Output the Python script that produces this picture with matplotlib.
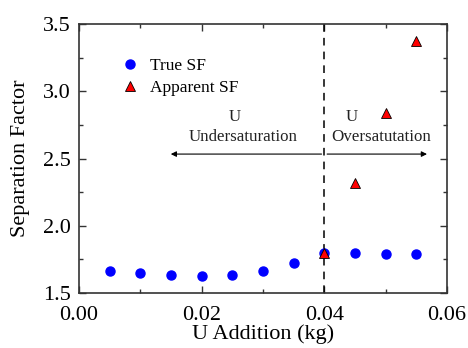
import matplotlib.pyplot as plt
from matplotlib.ticker import MultipleLocator

plt.rcParams['font.family'] = ['Liberation Serif', 'DejaVu Serif']

# data
x_true = [0.005, 0.010, 0.015, 0.020, 0.025, 0.030, 0.035, 0.040, 0.045, 0.050, 0.055]
sf_true = [1.666, 1.649, 1.636, 1.629, 1.636, 1.666, 1.723, 1.797, 1.797, 1.790, 1.788]
x_app = [0.040, 0.045, 0.050, 0.055]
sf_app = [1.800, 2.316, 2.840, 3.376]

fig = plt.figure(figsize=(4.68, 3.48), dpi=100)
ax = fig.add_axes([0.169, 0.158, 0.786, 0.773])

ax.plot(x_true, sf_true, 'o', color='#0000ff', markersize=6.5, label='True SF', zorder=3)
ax.plot(x_app, sf_app, '^', color='#ff0000', markeredgecolor='black', markeredgewidth=0.6,
        markersize=7, label='Apparent SF', zorder=4)

# boundary at 0.04 kg
ax.axvline(0.04, color='black', linestyle=(0, (5, 4)), linewidth=1.1, zorder=2)
ax.annotate('', xy=(0.0145, 2.533), xytext=(0.04, 2.533),
            arrowprops=dict(arrowstyle='-|>', color='black', lw=0.8, mutation_scale=8))
ax.annotate('', xy=(0.0572, 2.533), xytext=(0.04, 2.533),
            arrowprops=dict(arrowstyle='-|>', color='black', lw=0.8, mutation_scale=8))
txt = dict(ha='center', va='center', fontsize=12.2, color='#222222')
ax.text(0.0254, 2.81, 'U', **txt)
ax.text(0.0267, 2.66, 'Undersaturation', **txt)
ax.text(0.0445, 2.81, 'U', **txt)
ax.text(0.0492, 2.66, 'Oversatutation', **txt)

ax.set_xlim(0, 0.06)
ax.set_ylim(1.5, 3.5)
ax.xaxis.set_major_locator(MultipleLocator(0.02))
ax.xaxis.set_minor_locator(MultipleLocator(0.01))
ax.yaxis.set_major_locator(MultipleLocator(0.5))
ax.yaxis.set_minor_locator(MultipleLocator(0.25))
ax.xaxis.set_major_formatter(plt.FuncFormatter(lambda v, p: f'{v:.2f}'))
ax.yaxis.set_major_formatter(plt.FuncFormatter(lambda v, p: f'{v:.1f}'))
ax.tick_params(which='both', direction='in', top=True, right=True, labelsize=16, colors='#333333',
               labelcolor='black')
ax.tick_params(axis='x', which='major', pad=9)
ax.tick_params(axis='y', which='major', pad=6)
ax.tick_params(which='major', length=5, width=1)
ax.tick_params(which='minor', length=3, width=1)
for s in ax.spines.values():
    s.set_color('#333333')
    s.set_linewidth(1.2)

ax.set_xlabel('U Addition (kg)', fontsize=16, labelpad=0)
ax.set_ylabel('Separation Factor', fontsize=16, labelpad=9)

ax.legend(loc='upper left', bbox_to_anchor=(0.09, 0.90), frameon=False, fontsize=12.5,
          handletextpad=0.6, borderaxespad=0, labelspacing=0.35, handlelength=1.2)

fig.savefig('out.png', dpi=100)
